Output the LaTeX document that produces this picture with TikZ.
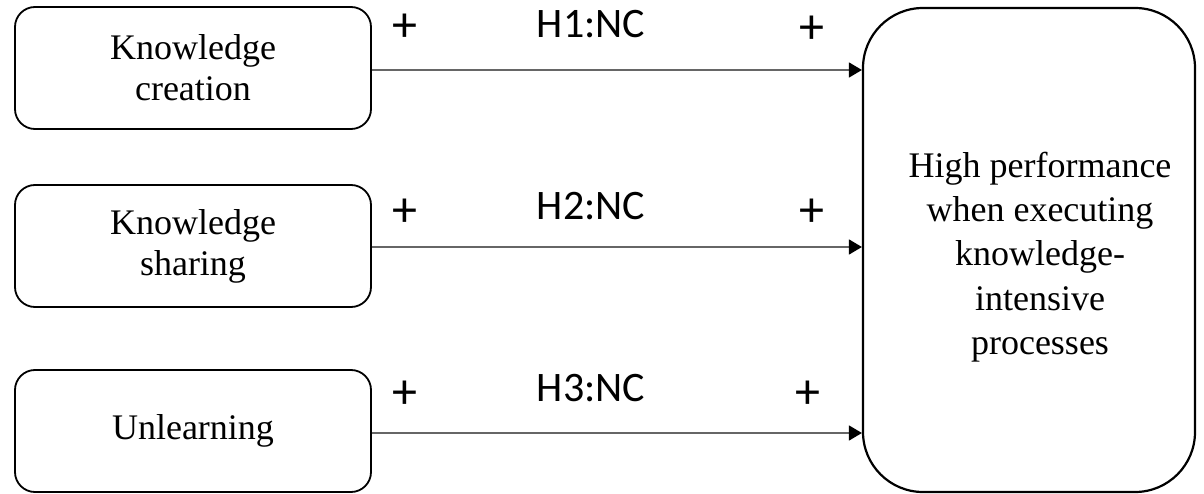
\documentclass[tikz,border=0pt]{standalone}
\usepackage{fontspec}
\setmainfont{Liberation Serif}
\newfontfamily\labfont{Carlito}
\usetikzlibrary{arrows.meta}
\begin{document}
\begin{tikzpicture}[x=1pt,y=-1pt,
  leftbox/.style={draw=black,line width=1.8pt,rounded corners=20pt,minimum width=356pt,minimum height=122pt,align=center,inner sep=0pt,font=\fontsize{36}{41}\selectfont},
  bigbox/.style={draw=black,line width=2.2pt,rounded corners=60pt,minimum width=332pt,minimum height=484pt,inner sep=0pt},
  conn/.style={draw=black!60,line width=1.5pt,-{Triangle[length=13pt,width=15pt,fill=black,color=black]}},
  lab/.style={font=\labfont\fontsize{42}{48}\selectfont,inner sep=0pt},
  plus/.style={font=\labfont\fontsize{50}{56}\selectfont,inner sep=0pt}]
\useasboundingbox (0,0) rectangle (1204,494);
\node[leftbox] (k1) at (193,68) {Knowledge\\creation};
\node[leftbox] (k2) at (193,246) {Knowledge\\sharing};
\node[leftbox] (k3) at (193,431) {Unlearning};
\node[bigbox,label={[xshift=11pt,yshift=-7pt,align=center,font=\fontsize{36}{44.25}\selectfont]center:High performance\\when executing\\knowledge-\\intensive\\processes}] (hp) at (1029,250) {};
\draw[conn] ([yshift=-2pt]k1.east) -- ([yshift=-2pt]k1.east -| hp.west);
\draw[conn] ([yshift=-1pt]k2.east) -- ([yshift=-1pt]k2.east -| hp.west);
\draw[conn] ([yshift=-2pt]k3.east) -- ([yshift=-2pt]k3.east -| hp.west);
\node[plus] (p1a) at (405,28) {+};
\node[lab] (h1) at (591,24) {H1:NC};
\node[plus] (p1b) at (812,30) {+};
\node[plus] (p2a) at (405,213) {+};
\node[lab] (h2) at (591,206) {H2:NC};
\node[plus] (p2b) at (812,213) {+};
\node[plus] (p3a) at (405,395) {+};
\node[lab] (h3) at (591,388) {H3:NC};
\node[plus] (p3b) at (808,395) {+};
\end{tikzpicture}
\end{document}
